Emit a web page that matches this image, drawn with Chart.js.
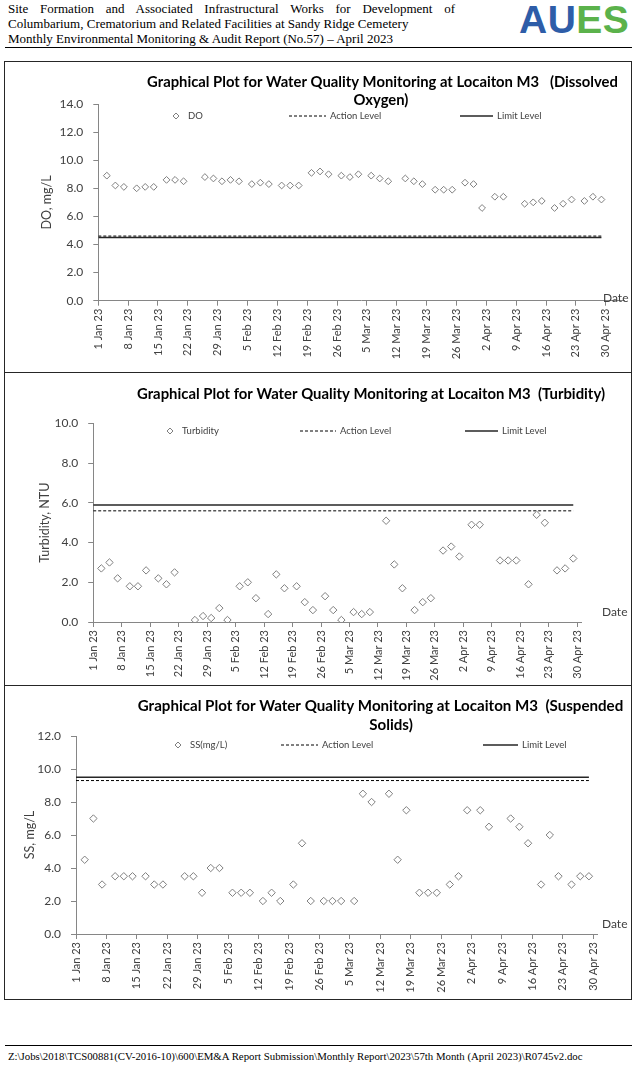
<!DOCTYPE html>
<html>
<head>
<meta charset="utf-8">
<script src="https://cdn.jsdelivr.net/npm/chart.js@4.4.1/dist/chart.umd.min.js"></script>
<style>
  body { margin: 0; background: #fff; }
  #page { position: relative; width: 635px; height: 1065px; overflow: hidden; font-family: "Liberation Serif", "Times New Roman", serif; color: #000; }
  .hdr { position: absolute; left: 8px; font-size: 13px; line-height: 15px; white-space: nowrap; }
  .just { width: 447px; white-space: normal; text-align: justify; text-align-last: justify; }
  #logo { position: absolute; left: 519px; top: 0; font: bold 39px/39px "Liberation Sans", Arial, sans-serif; letter-spacing: 0.5px; }
  .rule { position: absolute; left: 5px; width: 627px; border-top: 1px solid #000; }
  .panel { position: absolute; left: 0; width: 635px; }
  .box { position: absolute; left: 4px; width: 628px; border: 1px solid #262626; box-sizing: border-box; pointer-events: none; }
  #foot { position: absolute; left: 8px; top: 1050px; font-size: 10.8px; white-space: nowrap; }
</style>
</head>
<body>
<div id="page">
  <div class="hdr just" style="top:1px">Site Formation and Associated Infrastructural Works for Development of</div>
  <div class="hdr" style="top:16px">Columbarium, Crematorium and Related Facilities at Sandy Ridge Cemetery</div>
  <div class="hdr" style="top:31px">Monthly Environmental Monitoring &amp; Audit Report (No.57) – April 2023</div>
  <div id="logo"><span style="color:#2e5da8">AU</span><span style="color:#5bb24b">ES</span></div>
  <div class="rule" style="top:47px"></div>

  <div class="panel" style="top:62px;height:310px"><canvas id="chartDO"></canvas></div>
  <div class="panel" style="top:372px;height:313px"><canvas id="chartTurb"></canvas></div>
  <div class="panel" style="top:685px;height:315px"><canvas id="chartSS"></canvas></div>
  <div class="box" style="top:61px;height:312px"></div>
  <div class="box" style="top:372px;height:314px"></div>
  <div class="box" style="top:685px;height:315px"></div>

  <div class="rule" style="top:1045px"></div>
  <div id="foot">Z:\Jobs\2018\TCS00881(CV-2016-10)\600\EM&amp;A Report Submission\Monthly Report\2023\57th Month (April 2023)\R0745v2.doc</div>
</div>

<script>
// sampling dates (Jan - Apr 2023)
const sampleDates = [
  '2023-01-03', '2023-01-05', '2023-01-07', '2023-01-10', '2023-01-12', '2023-01-14',
  '2023-01-17', '2023-01-19', '2023-01-21', '2023-01-26', '2023-01-28', '2023-01-30',
  '2023-02-01', '2023-02-03', '2023-02-06', '2023-02-08', '2023-02-10', '2023-02-13',
  '2023-02-15', '2023-02-17', '2023-02-20', '2023-02-22', '2023-02-24', '2023-02-27',
  '2023-03-01', '2023-03-03', '2023-03-06', '2023-03-08', '2023-03-10', '2023-03-14',
  '2023-03-16', '2023-03-18', '2023-03-21', '2023-03-23', '2023-03-25', '2023-03-28',
  '2023-03-30', '2023-04-01', '2023-04-04', '2023-04-06', '2023-04-11', '2023-04-13',
  '2023-04-15', '2023-04-18', '2023-04-20', '2023-04-22', '2023-04-25', '2023-04-27',
  '2023-04-29'
];

const doValues = [
  8.9, 8.2, 8.1, 8.0, 8.1, 8.1, 8.6, 8.6, 8.5, 8.8, 8.7, 8.5,
  8.6, 8.5, 8.3, 8.4, 8.3, 8.2, 8.2, 8.2, 9.1, 9.2, 9.0, 8.9,
  8.8, 9.0, 8.9, 8.7, 8.5, 8.7, 8.5, 8.3, 7.9, 7.9, 7.9, 8.4, 8.3,
  6.6, 7.4, 7.4, 6.9, 7.0, 7.1, 6.6, 6.9, 7.2, 7.1, 7.4, 7.2
];

const turbidityValues = [
  2.7, 3.0, 2.2, 1.8, 1.8, 2.6, 2.2, 1.9, 2.5, 0.1, 0.3, 0.2,
  0.7, 0.1, 1.8, 2.0, 1.2, 0.4, 2.4, 1.7, 1.8, 1.0, 0.6, 1.3,
  0.6, 0.1, 0.5, 0.4, 0.5, 5.1, 2.9, 1.7, 0.6, 1.0, 1.2, 3.6, 3.8,
  3.3, 4.9, 4.9, 3.1, 3.1, 3.1, 1.9, 5.4, 5.0, 2.6, 2.7, 3.2
];

const ssValues = [
  4.5, 7.0, 3.0, 3.5, 3.5, 3.5, 3.5, 3.0, 3.0, 3.5, 3.5, 2.5,
  4.0, 4.0, 2.5, 2.5, 2.5, 2.0, 2.5, 2.0, 3.0, 5.5, 2.0, 2.0,
  2.0, 2.0, 2.0, 8.5, 8.0, 8.5, 4.5, 7.5, 2.5, 2.5, 2.5, 3.0, 3.5,
  7.5, 7.5, 6.5, 7.0, 6.5, 5.5, 3.0, 6.0, 3.5, 3.0, 3.5, 3.5
];

// action / limit levels drawn from axis start to last sampling day
const levelDates = ['2023-01-01', '2023-04-29'];
const actionLevels = [4.6, 5.6, 9.3];   // DO, Turbidity, SS
const limitLevels = [4.5, 5.9, 9.5];

const monthNames = ['Jan', 'Feb', 'Mar', 'Apr', 'May', 'Jun', 'Jul', 'Aug', 'Sep', 'Oct', 'Nov', 'Dec'];
const startDay = Date.UTC(2023, 0, 1);

function dayOf(s) {
  return (Date.parse(s + 'T00:00:00Z') - startDay) / 86400000;
}

function dayLabel(v) {
  const d = new Date(startDay + v * 86400000);
  return d.getUTCDate() + ' ' + monthNames[d.getUTCMonth()] + ' ' + String(d.getUTCFullYear()).slice(2);
}

function toPoints(dates, values) {
  return dates.map((s, i) => ({ x: dayOf(s), y: values[i] }));
}

const textColor = '#404040';
const axisColor = '#868686';

// titles, legend and the "Date" caption, drawn in page coordinates
function decorPlugin(cfg) {
  return {
    id: 'decor',
    afterDraw(chart) {
      const ctx = chart.ctx;
      ctx.save();
      ctx.translate(0, -cfg.top);

      // title: size picked so line 1 spans the same width as in the report
      ctx.font = 'bold 20px Lato';
      const size = 20 * cfg.titleWidth / ctx.measureText(cfg.titles[0][0]).width;
      ctx.font = 'bold ' + size.toFixed(2) + 'px Lato';
      ctx.fillStyle = '#000';
      ctx.textAlign = 'center';
      ctx.textBaseline = 'middle';
      cfg.titles.forEach(([t, x, y]) => ctx.fillText(t, x, y));

      // legend
      const lg = cfg.legend;
      const y = lg.y;
      ctx.font = '9.5px Lato';
      ctx.fillStyle = textColor;
      ctx.textAlign = 'left';
      ctx.beginPath();
      ctx.moveTo(lg.marker - 3, y);
      ctx.lineTo(lg.marker, y - 3);
      ctx.lineTo(lg.marker + 3, y);
      ctx.lineTo(lg.marker, y + 3);
      ctx.closePath();
      ctx.strokeStyle = '#7f7f7f';
      ctx.lineWidth = 1;
      ctx.stroke();
      ctx.fillText(cfg.seriesName, lg.marker + 12, y);

      ctx.strokeStyle = '#000';
      ctx.setLineDash([3, 2]);
      ctx.beginPath();
      ctx.moveTo(lg.action[0], y);
      ctx.lineTo(lg.action[1], y);
      ctx.stroke();
      ctx.fillText('Action Level', lg.action[1] + 4, y);

      ctx.setLineDash([]);
      ctx.strokeStyle = '#262626';
      ctx.lineWidth = 1.4;
      ctx.beginPath();
      ctx.moveTo(lg.limit[0], y);
      ctx.lineTo(lg.limit[1], y);
      ctx.stroke();
      ctx.fillText('Limit Level', lg.limit[1] + 4, y);

      ctx.font = '12px Lato';
      ctx.fillText('Date', cfg.date[0], cfg.date[1]);
      ctx.restore();
    }
  };
}

function makeChart(id, cfg) {
  const tickFont = { family: 'Lato', size: 12 };
  return new Chart(document.getElementById(id), {
    type: 'scatter',
    data: {
      datasets: [{
        label: cfg.seriesName,
        data: toPoints(sampleDates, cfg.values),
        pointStyle: 'rectRot',
        pointRadius: cfg.markerR,
        pointBorderWidth: 1,
        borderColor: '#7f7f7f',
        backgroundColor: '#fff',
        showLine: false,
        order: 0
      }, {
        label: 'Action Level',
        data: toPoints(levelDates, [cfg.action, cfg.action]),
        showLine: true,
        borderColor: '#000',
        borderWidth: 1,
        borderDash: [3, 2],
        pointRadius: 0,
        order: 1
      }, {
        label: 'Limit Level',
        data: toPoints(levelDates, [cfg.limit, cfg.limit]),
        showLine: true,
        borderColor: '#262626',
        borderWidth: 1.5,
        pointRadius: 0,
        order: 2
      }]
    },
    options: {
      responsive: true,
      maintainAspectRatio: false,
      animation: false,
      layout: {
        autoPadding: false,
        padding: {
          left: 0,
          right: 635 - cfg.right,
          top: cfg.plotTop - cfg.top,
          bottom: cfg.top + cfg.height - cfg.plotBottom - 60
        }
      },
      plugins: {
        legend: { display: false },
        title: { display: false },
        tooltip: { enabled: false }
      },
      scales: {
        x: {
          type: 'linear',
          min: 0,
          max: cfg.xMax,
          afterFit: s => { s.height = 60; },
          ticks: {
            stepSize: 7,
            includeBounds: false,
            autoSkip: false,
            minRotation: 90,
            maxRotation: 90,
            padding: 3,
            color: textColor,
            font: { family: 'Lato', size: 11 },
            callback: v => dayLabel(v)
          },
          grid: { drawOnChartArea: false, drawTicks: true, tickLength: 5, color: axisColor },
          border: { color: axisColor, width: 1 }
        },
        y: {
          min: 0,
          max: cfg.yMax,
          afterFit: s => { s.width = cfg.left; },
          ticks: {
            stepSize: 2,
            padding: 10,
            color: textColor,
            font: tickFont,
            callback: v => v.toFixed(1)
          },
          title: {
            display: true,
            text: cfg.yTitle,
            color: textColor,
            font: { family: 'Lato', size: 12.5 },
            padding: { top: cfg.yTitleX - 7.5, bottom: 0 }
          },
          grid: { drawOnChartArea: false, drawTicks: true, tickLength: 5, color: axisColor },
          border: { color: axisColor, width: 1 }
        }
      }
    },
    plugins: [decorPlugin(cfg)]
  });
}

makeChart('chartDO', {
  top: 62, height: 310,
  left: 98.3, right: 624.9, plotTop: 104, plotBottom: 300.7,
  xMax: 123.5, yMax: 14,
  values: doValues, action: actionLevels[0], limit: limitLevels[0],
  seriesName: 'DO', yTitle: 'DO, mg/L', yTitleX: 47, markerR: 3.4,
  titleWidth: 471,
  titles: [
    ['Graphical Plot for Water Quality Monitoring at Locaiton M3   (Dissolved', 382.5, 82],
    ['Oxygen)', 381, 100]
  ],
  legend: { y: 116, marker: 176, action: [289, 326], limit: [460, 493] },
  date: [603, 298]
});

makeChart('chartTurb', {
  top: 372, height: 313,
  left: 93.2, right: 581.4, plotTop: 423.5, plotBottom: 622,
  xMax: 120, yMax: 10,
  values: turbidityValues, action: actionLevels[1], limit: limitLevels[1],
  seriesName: 'Turbidity', yTitle: 'Turbidity, NTU', yTitleX: 45, markerR: 3.7,
  titleWidth: 468,
  titles: [
    ['Graphical Plot for Water Quality Monitoring at Locaiton M3  (Turbidity)', 371, 394]
  ],
  legend: { y: 431, marker: 170, action: [300, 336], limit: [465, 498] },
  date: [602, 612]
});

makeChart('chartSS', {
  top: 685, height: 315,
  left: 76, right: 597.6, plotTop: 736, plotBottom: 934,
  xMax: 120, yMax: 12,
  values: ssValues, action: actionLevels[2], limit: limitLevels[2],
  seriesName: 'SS(mg/L)', yTitle: 'SS, mg/L', yTitleX: 30, markerR: 3.7,
  titleWidth: 486,
  titles: [
    ['Graphical Plot for Water Quality Monitoring at Locaiton M3  (Suspended', 380.5, 706],
    ['Solids)', 391, 725]
  ],
  legend: { y: 745, marker: 178, action: [281, 318], limit: [483, 518] },
  date: [602, 924]
});
</script>
</body>
</html>
